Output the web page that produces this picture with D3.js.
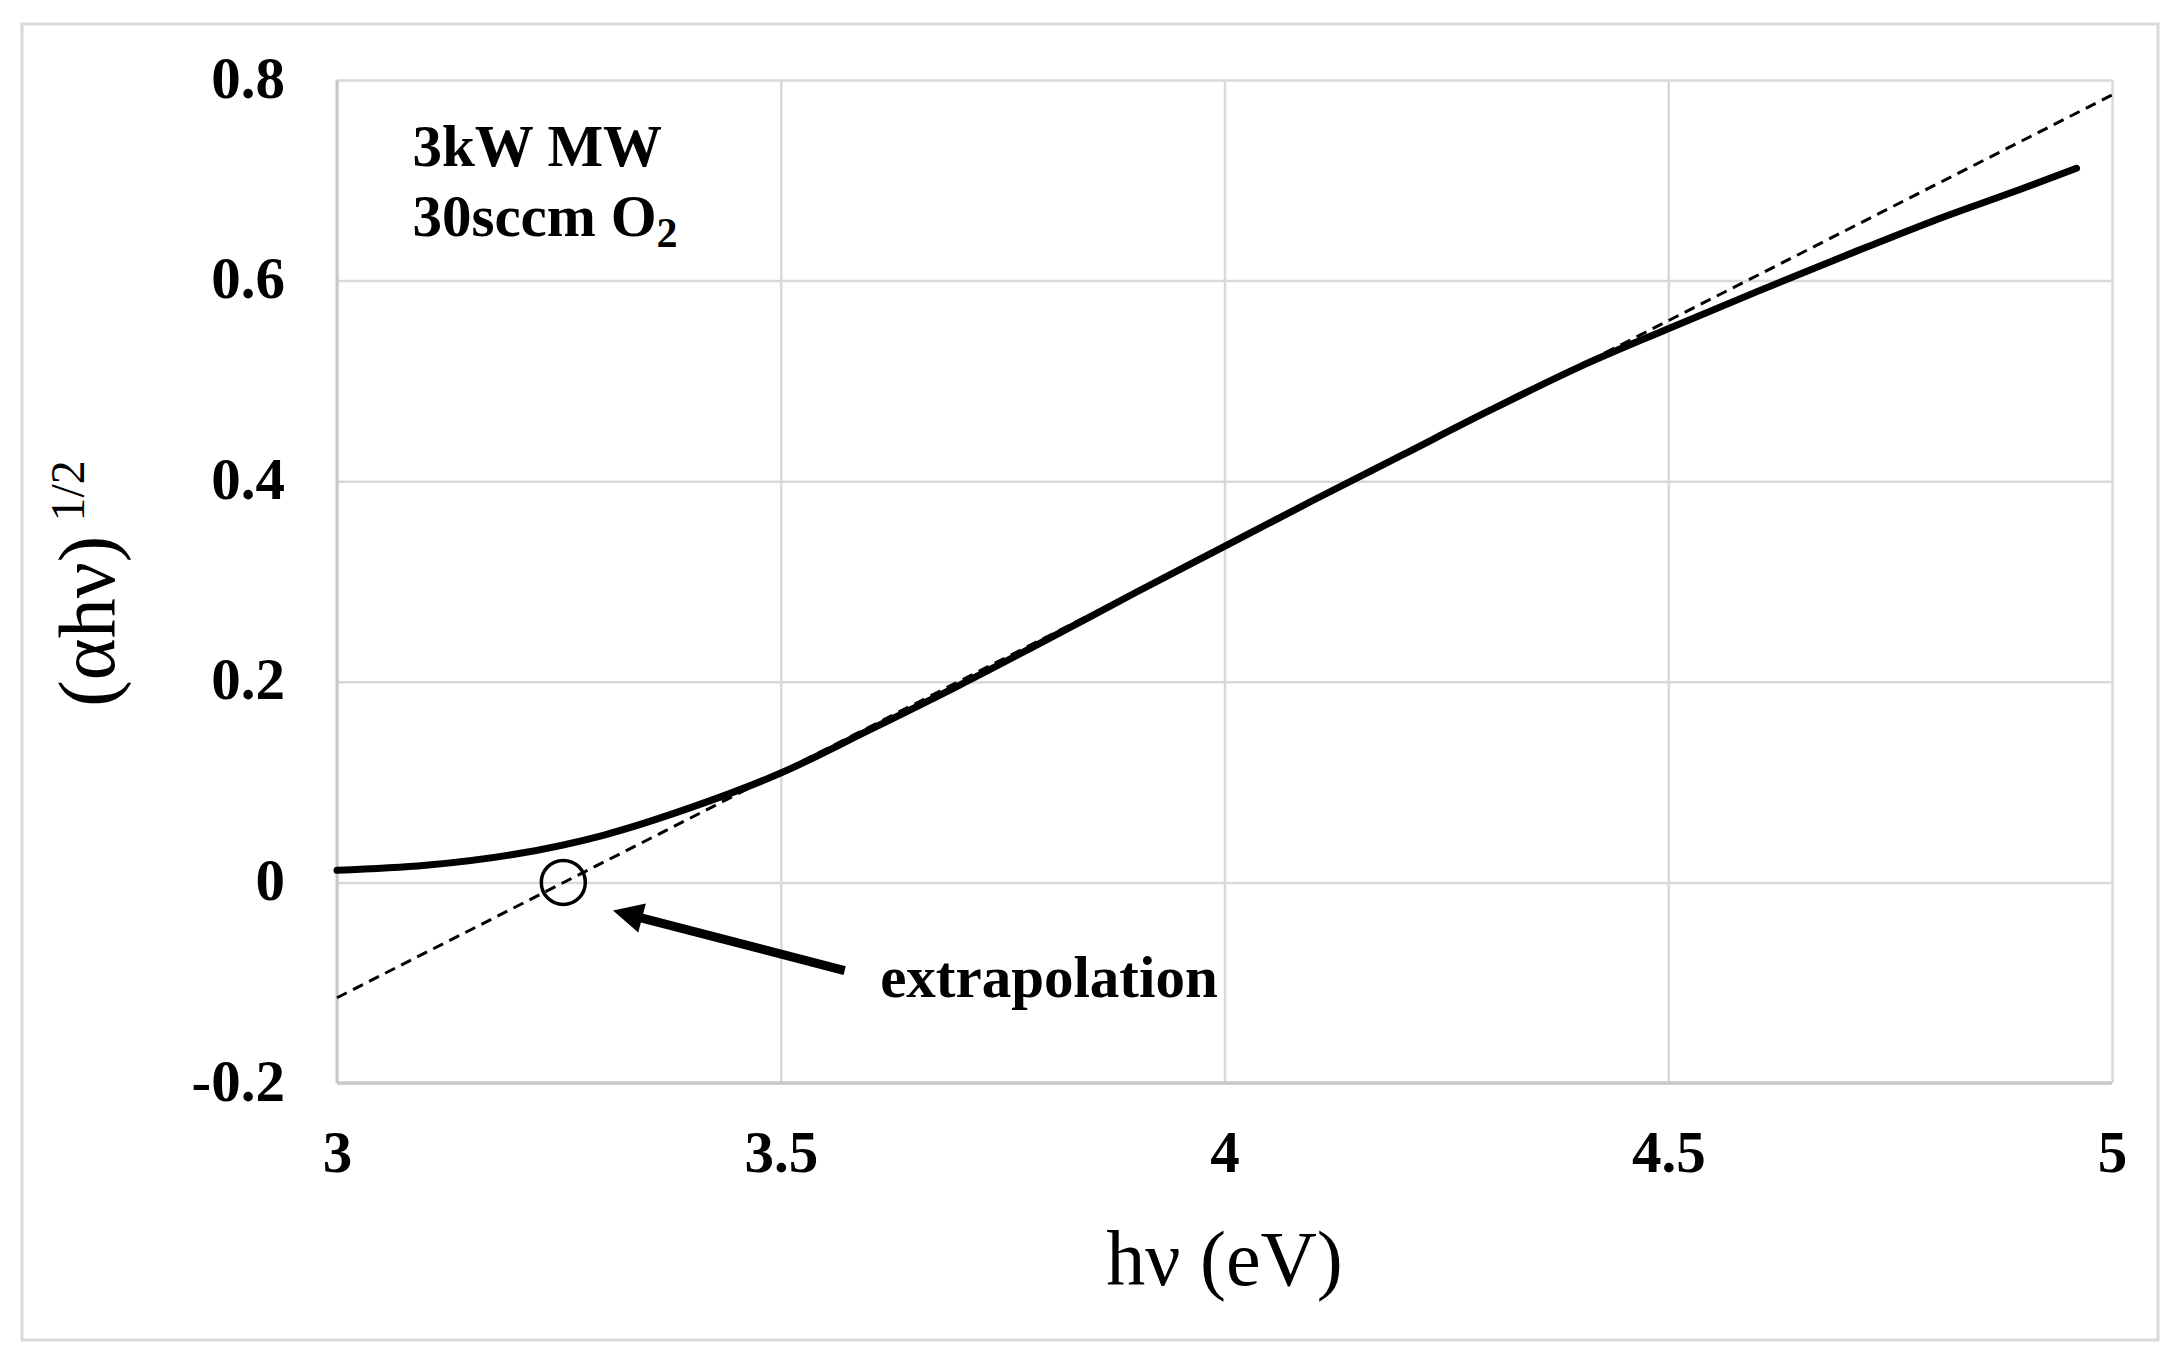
<!DOCTYPE html>
<html>
<head>
<meta charset="utf-8">
<script src="https://cdn.jsdelivr.net/npm/d3@7/dist/d3.min.js"></script>
<style>
  html, body { margin: 0; padding: 0; background: #fff; }
  svg { display: block; }
  text { font-family: "Liberation Serif", "Times New Roman", serif; fill: #000; }
</style>
</head>
<body>
<svg id="chart" width="2181" height="1368"></svg>
<script>
// ---- data ----
const hv = [3.0, 3.1, 3.2, 3.3, 3.4, 3.5, 3.6, 3.7, 3.8, 3.9, 4.0, 4.1, 4.2, 4.3, 4.4, 4.5, 4.6, 4.7, 4.8, 4.9, 4.96];
const ahv = [0.012, 0.017, 0.028, 0.047, 0.075, 0.109, 0.152, 0.196, 0.242, 0.289, 0.335, 0.381, 0.426, 0.471, 0.514, 0.552, 0.589, 0.625, 0.660, 0.692, 0.712];
const fitX = [3.0, 5.0];
const fitY = [-0.115, 0.785];
const xTicks = [3, 3.5, 4, 4.5, 5];
const yTicks = [-0.2, 0, 0.2, 0.4, 0.6, 0.8];
const bandgap = [3.255, 0];
const arrowTail = [3.572, -0.088];
const arrowTip = [3.311, -0.028];
const annotLines = ["3kW MW", "30sccm O"];
const annotPos = [3.085, 0.714];
const extrapLabel = "extrapolation";
const extrapPos = [3.612, -0.114];

// ---- layout ----
const svg = d3.select("#chart");
const x = d3.scaleLinear().domain([3, 5]).range([337, 2112]);
const y = d3.scaleLinear().domain([-0.2, 0.8]).range([1083, 80]);
const fmt = d => String(+(+d).toFixed(1));

// outer frame
svg.append("rect")
  .attr("x", 22).attr("y", 24).attr("width", 2136).attr("height", 1316)
  .attr("fill", "#fff").attr("stroke", "#d9d9d9").attr("stroke-width", 3);

// grid + y axis
const gy = svg.append("g").attr("transform", `translate(${x(3)},0)`)
  .call(d3.axisLeft(y).tickValues(yTicks).tickSize(-(x(5) - x(3))).tickPadding(52).tickFormat(fmt));
gy.select(".domain").remove();
gy.selectAll(".tick line").attr("stroke", "#d9d9d9").attr("stroke-width", 2.5);
gy.selectAll(".tick text").attr("font-size", 59).attr("font-weight", "bold").attr("dy", "0.29em");

const gx = svg.append("g").attr("transform", `translate(0,${y(-0.2)})`)
  .call(d3.axisBottom(x).tickValues(xTicks).tickSize(-(y(-0.2) - y(0.8))).tickPadding(47).tickFormat(fmt));
gx.select(".domain").remove();
gx.selectAll(".tick line").attr("stroke", "#d9d9d9").attr("stroke-width", 2.5);
gx.selectAll(".tick text").attr("font-size", 59).attr("font-weight", "bold");

// axis lines
svg.append("line").attr("x1", x(3)).attr("x2", x(3)).attr("y1", y(0.8)).attr("y2", y(-0.2))
  .attr("stroke", "#c8c8c8").attr("stroke-width", 3);
svg.append("line").attr("x1", x(3)).attr("x2", x(5)).attr("y1", y(-0.2)).attr("y2", y(-0.2))
  .attr("stroke", "#c8c8c8").attr("stroke-width", 3.5);

// dashed extrapolation
svg.append("path")
  .attr("d", d3.line().x((d, i) => x(fitX[i])).y((d, i) => y(fitY[i]))(fitX))
  .attr("fill", "none").attr("stroke", "#000").attr("stroke-width", 3)
  .attr("stroke-dasharray", "11,7");

// data curve
svg.append("path")
  .attr("d", d3.line().curve(d3.curveMonotoneX).x((d, i) => x(hv[i])).y((d, i) => y(ahv[i]))(hv))
  .attr("fill", "none").attr("stroke", "#000").attr("stroke-width", 7)
  .attr("stroke-linecap", "round").attr("stroke-linejoin", "round");

// circle at intercept
svg.append("circle").attr("cx", x(bandgap[0])).attr("cy", y(bandgap[1])).attr("r", 22)
  .attr("fill", "none").attr("stroke", "#000").attr("stroke-width", 3.5);

// arrow
const tx = x(arrowTip[0]), ty = y(arrowTip[1]);
const sx = x(arrowTail[0]), sy = y(arrowTail[1]);
const ang = Math.atan2(ty - sy, tx - sx);
const headLen = 30, headHalf = 15;
const bx = tx - headLen * Math.cos(ang), by = ty - headLen * Math.sin(ang);
svg.append("line").attr("x1", sx).attr("y1", sy).attr("x2", bx + 2 * Math.cos(ang)).attr("y2", by + 2 * Math.sin(ang))
  .attr("stroke", "#000").attr("stroke-width", 9);
const px = -Math.sin(ang), py = Math.cos(ang);
svg.append("path")
  .attr("d", `M${tx},${ty} L${bx + headHalf * px},${by + headHalf * py} L${bx - headHalf * px},${by - headHalf * py} Z`)
  .attr("fill", "#000");

// annotation text
svg.append("text").attr("x", x(extrapPos[0])).attr("y", y(extrapPos[1]))
  .attr("font-size", 59).attr("font-weight", "bold").text(extrapLabel);

const at = svg.append("text").attr("x", x(annotPos[0])).attr("y", y(annotPos[1]))
  .attr("font-size", 59).attr("font-weight", "bold");
at.append("tspan").attr("x", x(annotPos[0])).text(annotLines[0]);
at.append("tspan").attr("x", x(annotPos[0])).attr("dy", 70).text(annotLines[1]);
at.append("tspan").attr("dy", 11).attr("font-size", 42).text("2");

// axis titles
svg.append("text").attr("x", (x(3) + x(5)) / 2).attr("y", 1285)
  .attr("text-anchor", "middle").attr("font-size", 78).text("hν (eV)");

const yl = svg.append("text").attr("transform", `translate(114,${(y(0.8) + y(-0.2)) / 2 + 2}) rotate(-90)`)
  .attr("text-anchor", "middle").attr("font-size", 80);
yl.append("tspan").text("(αhν)");
yl.append("tspan").attr("dx", 14).attr("dy", -30).attr("font-size", 48).text("1/2");
</script>
</body>
</html>
